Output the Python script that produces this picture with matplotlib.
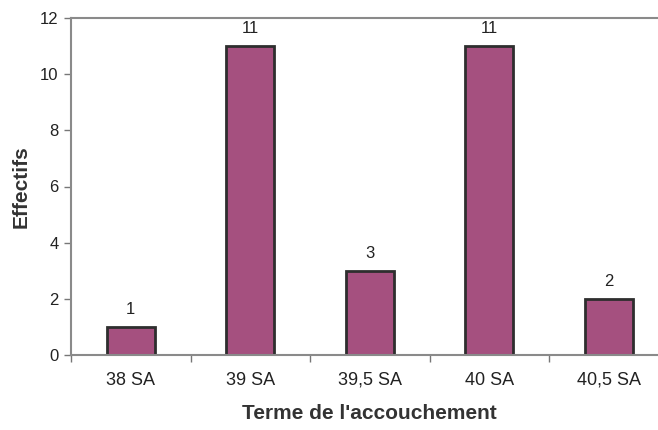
import numpy as np
import matplotlib
matplotlib.use('Agg')
import matplotlib.pyplot as plt

categories = ['38 SA', '39 SA', '39,5 SA', '40 SA', '40,5 SA']
effectifs = [1, 11, 3, 11, 2]
y_ticks = [0, 2, 4, 6, 8, 10, 12]

plt.rcParams['font.family'] = ['Liberation Sans', 'DejaVu Sans']

fig = plt.figure(figsize=(6.58, 4.30), dpi=100)
# plot area runs slightly past the right edge, as in the scanned original
ax = fig.add_axes([71 / 658, 1 - 355 / 430, 597.5 / 658, 337 / 430])

x = np.arange(len(categories))
bars = ax.bar(x, effectifs, width=0.4, color='#A5507F', edgecolor='#2e2e2e', linewidth=2)

for bar, v in zip(bars, effectifs):
    ax.text(bar.get_x() + bar.get_width() / 2, v + 0.35, str(v),
            ha='center', va='bottom', fontsize=12, color='#222222')

ax.set_xlim(-0.5, len(categories) - 0.5)
ax.set_ylim(0, 12)
ax.set_yticks(y_ticks)
ax.tick_params(axis='y', length=5, width=1, color='#777777', labelsize=12, labelcolor='#222222', pad=4)

ax.set_xticks(x)
ax.set_xticklabels(categories, fontsize=13, color='#222222')
ax.tick_params(axis='x', length=0, pad=12)
ax.set_xticks(np.arange(len(categories) + 1) - 0.5, minor=True)
ax.tick_params(axis='x', which='minor', length=5, width=1, color='#777777')

for side in ['left', 'bottom', 'top']:
    ax.spines[side].set_color('#8a8a8a')
    ax.spines[side].set_linewidth(1.5)
ax.spines['right'].set_visible(False)

ax.set_ylabel('Effectifs', fontsize=15, fontweight='bold', color='#333333', labelpad=7)
ax.set_xlabel("Terme de l'accouchement", fontsize=15, fontweight='bold', color='#333333', labelpad=11)

fig.savefig('out.png', dpi=100)
